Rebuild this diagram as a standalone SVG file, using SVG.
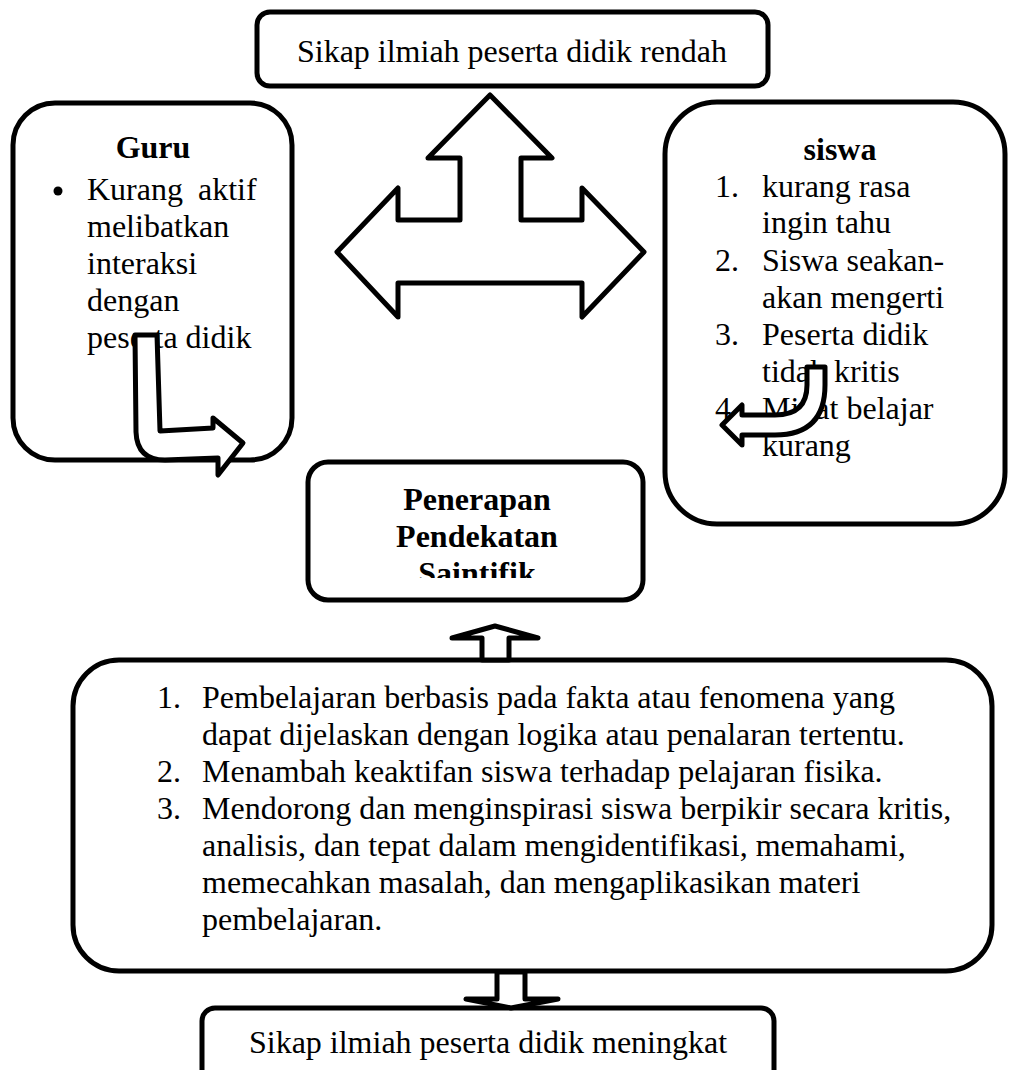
<svg xmlns="http://www.w3.org/2000/svg" width="1011" height="1070" viewBox="0 0 1011 1070">
<style>
.box{fill:#fff;stroke:#000;stroke-width:5}
.arr{fill:#fff;stroke:#000;stroke-width:5;stroke-linejoin:round}
text{font-family:"Liberation Serif","Times New Roman",serif;font-size:32px;fill:#000}
.b{font-weight:bold}
.c{text-anchor:middle}
</style>
<defs>
<clipPath id="clipMid"><rect x="300" y="455" width="350" height="123"/></clipPath>
</defs>
<rect width="1011" height="1070" fill="#fff"/>

<g id="top">
<rect class="box" x="257" y="12" width="511" height="74" rx="13"/>
<text class="c" x="512" y="62">Sikap ilmiah peserta didik rendah</text>
</g>

<g id="guru">
<rect class="box" x="13" y="103" width="279" height="357" rx="42"/>
<text class="b c" x="153" y="158">Guru</text>
<circle cx="58" cy="191" r="4.5"/>
<text x="87" y="200">Kurang</text>
<text x="198" y="200">aktif</text>
<text x="87" y="237">melibatkan</text>
<text x="87" y="274">interaksi</text>
<text x="87" y="311">dengan</text>
<text x="87" y="348">peserta didik</text>
</g>

<g id="siswa">
<rect class="box" x="665" y="102" width="340" height="422" rx="52"/>
<text class="b c" x="840" y="160">siswa</text>
<text x="715" y="197">1.</text><text x="762" y="197">kurang rasa</text>
<text x="762" y="233">ingin tahu</text>
<text x="715" y="271">2.</text><text x="762" y="271">Siswa seakan-</text>
<text x="762" y="308">akan mengerti</text>
<text x="715" y="345">3.</text><text x="762" y="345">Peserta didik</text>
<text x="762" y="382">tidak kritis</text>
<text x="715" y="419">4.</text><text x="762" y="419">Minat belajar</text>
<text x="762" y="456">kurang</text>
</g>

<g id="penerapan">
<rect class="box" x="308" y="462" width="335" height="138" rx="20"/>
<g clip-path="url(#clipMid)">
<text class="b c" x="477" y="510">Penerapan</text>
<text class="b c" x="477" y="547">Pendekatan</text>
<text class="b c" x="477" y="584">Saintifik</text>
</g>
</g>

<g id="manfaat">
<rect class="box" x="73" y="660" width="919" height="311" rx="46"/>
<text x="157" y="708">1.</text><text x="202" y="708">Pembelajaran berbasis pada fakta atau fenomena yang</text>
<text x="202" y="745">dapat dijelaskan dengan logika atau penalaran tertentu.</text>
<text x="157" y="782">2.</text><text x="202" y="782">Menambah keaktifan siswa terhadap pelajaran fisika.</text>
<text x="157" y="819">3.</text><text x="202" y="819">Mendorong dan menginspirasi siswa berpikir secara kritis,</text>
<text x="202" y="856">analisis, dan tepat dalam mengidentifikasi, memahami,</text>
<text x="202" y="893">memecahkan masalah, dan mengaplikasikan materi</text>
<text x="202" y="930">pembelajaran.</text>
</g>

<g id="hasil">
<rect class="box" x="202" y="1008" width="572" height="90" rx="13"/>
<text class="c" x="488" y="1053">Sikap ilmiah peserta didik meningkat</text>
</g>

<g id="connectors">
<path class="arr" d="M490,95 L552,158 L521,158 L521,220 L582,220 L582,188 L644,252 L582,317 L582,283 L398,283 L398,317 L337,252 L398,188 L398,220 L460,220 L460,158 L428,158 Z"/>
<path class="arr" d="M135,335 L157,335 L160,431 L213,428 L213,418 L243,443 L218,475 L218,458 L165,460 Q137,460 136,432 Z"/>
<path class="arr" d="M807,367 L825,367 L825,385 Q825,435 775,435 L742,435 L742,445 L722,425 L742,405 L742,415 L775,415 Q807,415 807,385 Z"/>
<path class="arr" d="M495,626 L538,638 L509,638 L509,660 L482,660 L482,638 L452,638 Z"/>
<path class="arr" d="M497,972 L525,972 L525,999 L558,999 L511,1008 L466,999 L497,999 Z"/>
</g>
</svg>
